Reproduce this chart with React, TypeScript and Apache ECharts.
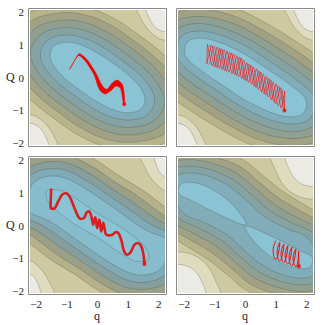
import React, { useEffect, useRef } from "react";
import * as echarts from "echarts";

// ---------- tick values ----------
const qTicks = [-2, -1, 0, 1, 2];
const QTicks = [-2, -1, 0, 1, 2];

// ---------- level colours (low -> high) ----------
const levelColors = ["#8ac3d3", "#80adb9", "#86a3a4", "#8f9f91", "#a1a285", "#b7b48c", "#cdc9a0", "#dedbbf", "#ebeae4"];
const panel3Colors = ["#8ac3d3", "#86bccc", "#7faab6", "#879f9c", "#9aa088", "#b4b18b", "#cdc9a0", "#dedbbf", "#ebeae4"];

// ---------- panel 1 contours ----------
const p1L1 = [[-1.53,0.79],[-1.35,1.00],[-1.00,1.07],[-0.57,1.00],[-0.03,0.76],[0.60,0.37],[1.19,-0.08],[1.51,-0.50],[1.53,-0.79],[1.35,-1.00],[1.00,-1.07],[0.57,-1.00],[0.03,-0.76],[-0.60,-0.37],[-1.19,0.08],[-1.51,0.50]];
const p1L2 = [[-1.85,0.81],[-1.57,1.17],[-1.06,1.29],[-0.52,1.22],[0.09,0.97],[0.75,0.55],[1.38,0.08],[1.79,-0.42],[1.85,-0.81],[1.57,-1.17],[1.06,-1.29],[0.52,-1.22],[-0.09,-0.97],[-0.75,-0.55],[-1.38,-0.08],[-1.79,0.42]];
const p1L3 = [[-2.18,0.83],[-1.79,1.34],[-1.11,1.51],[-0.46,1.44],[0.21,1.17],[0.91,0.73],[1.58,0.23],[2.06,-0.34],[2.18,-0.83],[1.79,-1.34],[1.11,-1.51],[0.46,-1.44],[-0.21,-1.17],[-0.91,-0.73],[-1.58,-0.23],[-2.06,0.34]];
const p1L4 = [[-2.50,0.85],[-2.00,1.51],[-1.17,1.74],[-0.41,1.67],[0.33,1.37],[1.06,0.92],[1.78,0.38],[2.33,-0.26],[2.50,-0.85],[2.00,-1.51],[1.17,-1.74],[0.41,-1.67],[-0.33,-1.37],[-1.06,-0.92],[-1.78,-0.38],[-2.33,0.26]];
const p1L5 = [[-2.83,0.87],[-2.22,1.69],[-1.22,1.96],[-0.35,1.89],[0.45,1.58],[1.21,1.10],[1.97,0.53],[2.60,-0.18],[2.83,-0.87],[2.22,-1.69],[1.22,-1.96],[0.35,-1.89],[-0.45,-1.58],[-1.21,-1.10],[-1.97,-0.53],[-2.60,0.18]];
const p1L6 = [[-3.16,0.89],[-2.44,1.86],[-1.28,2.18],[-0.30,2.11],[0.57,1.78],[1.36,1.28],[2.17,0.68],[2.87,-0.10],[3.16,-0.89],[2.44,-1.86],[1.28,-2.18],[0.30,-2.11],[-0.57,-1.78],[-1.36,-1.28],[-2.17,-0.68],[-2.87,0.10]];
const p1HiA = [[1.28,2.25],[1.44,1.75],[1.76,1.35],[2.14,1.14],[2.47,1.24],[2.58,2.25]];
const p1HiB = [[1.60,2.15],[1.69,1.80],[1.93,1.49],[2.25,1.42],[2.36,2.15]];
const p1HiC = [[-1.28,-2.25],[-1.44,-1.75],[-1.76,-1.35],[-2.14,-1.14],[-2.47,-1.24],[-2.58,-2.25]];
const p1HiD = [[-1.60,-2.15],[-1.69,-1.80],[-1.93,-1.49],[-2.25,-1.42],[-2.36,-2.15]];

// ---------- panel 2 contours ----------
const p2L1 = [[-1.99,0.84],[-1.88,1.09],[-1.61,1.19],[-1.18,1.16],[-0.64,0.99],[0.02,0.68],[0.72,0.25],[1.43,-0.20],[1.92,-0.60],[1.99,-0.84],[1.88,-1.09],[1.61,-1.19],[1.18,-1.16],[0.64,-0.99],[-0.02,-0.68],[-0.72,-0.25],[-1.43,0.20],[-1.92,0.60]];
const p2L2 = [[-2.26,0.89],[-2.08,1.26],[-1.70,1.40],[-1.18,1.38],[-0.55,1.20],[0.15,0.88],[0.88,0.43],[1.63,-0.05],[2.19,-0.52],[2.26,-0.89],[2.08,-1.26],[1.70,-1.40],[1.18,-1.38],[0.55,-1.20],[-0.15,-0.88],[-0.88,-0.43],[-1.63,0.05],[-2.19,0.52]];
const p2L3 = [[-2.53,0.94],[-2.27,1.43],[-1.79,1.62],[-1.18,1.61],[-0.46,1.41],[0.28,1.07],[1.05,0.61],[1.84,0.11],[2.46,-0.44],[2.53,-0.94],[2.27,-1.43],[1.79,-1.62],[1.18,-1.61],[0.46,-1.41],[-0.28,-1.07],[-1.05,-0.61],[-1.84,-0.11],[-2.46,0.44]];
const p2L4 = [[-2.81,0.99],[-2.47,1.61],[-1.87,1.83],[-1.18,1.83],[-0.37,1.63],[0.41,1.26],[1.21,0.80],[2.05,0.26],[2.73,-0.36],[2.81,-0.99],[2.47,-1.61],[1.87,-1.83],[1.18,-1.83],[0.37,-1.63],[-0.41,-1.26],[-1.21,-0.80],[-2.05,-0.26],[-2.73,0.36]];
const p2L5 = [[-3.08,1.04],[-2.67,1.78],[-1.96,2.04],[-1.18,2.05],[-0.29,1.84],[0.54,1.45],[1.37,0.98],[2.25,0.41],[3.00,-0.28],[3.08,-1.04],[2.67,-1.78],[1.96,-2.04],[1.18,-2.05],[0.29,-1.84],[-0.54,-1.45],[-1.37,-0.98],[-2.25,-0.41],[-3.00,0.28]];
const p2L6 = [[-3.35,1.09],[-2.86,1.95],[-2.05,2.25],[-1.18,2.27],[-0.20,2.05],[0.67,1.65],[1.54,1.16],[2.46,0.56],[3.27,-0.20],[3.35,-1.09],[2.86,-1.95],[2.05,-2.25],[1.18,-2.27],[0.20,-2.05],[-0.67,-1.65],[-1.54,-1.16],[-2.46,-0.56],[-3.27,0.20]];

// ---------- panel 3 contours ----------
const p3L1 = [[-1.66,1.04],[-1.38,1.09],[-1.11,1.04],[-0.57,0.73],[-0.03,0.38],[0.62,0.03],[1.17,-0.33],[1.61,-0.73],[1.66,-1.04],[1.38,-1.09],[1.11,-1.04],[0.57,-0.73],[0.03,-0.38],[-0.62,-0.03],[-1.17,0.33],[-1.61,0.73]];
const p3L2 = [[-2.31,0.84],[-2.09,1.29],[-1.66,1.49],[-1.11,1.46],[-0.52,1.19],[0.14,0.79],[0.84,0.33],[1.55,-0.13],[2.36,-0.48],[2.31,-0.84],[2.09,-1.29],[1.66,-1.49],[1.11,-1.46],[0.52,-1.19],[-0.14,-0.79],[-0.84,-0.33],[-1.55,0.13],[-2.36,0.48]];
const p3L3 = [[-2.58,0.79],[-2.29,1.44],[-1.74,1.70],[-1.08,1.69],[-0.41,1.39],[0.28,0.97],[1.00,0.51],[1.74,0.03],[2.63,-0.40],[2.58,-0.79],[2.29,-1.44],[1.74,-1.70],[1.08,-1.69],[0.41,-1.39],[-0.28,-0.97],[-1.00,-0.51],[-1.74,-0.03],[-2.63,0.40]];
const p3L4 = [[-2.85,0.73],[-2.48,1.60],[-1.83,1.90],[-1.05,1.91],[-0.30,1.60],[0.42,1.15],[1.17,0.69],[1.94,0.18],[2.90,-0.32],[2.85,-0.73],[2.48,-1.60],[1.83,-1.90],[1.05,-1.91],[0.30,-1.60],[-0.42,-1.15],[-1.17,-0.69],[-1.94,-0.18],[-2.90,0.32]];
const p3L5 = [[-3.12,0.68],[-2.68,1.75],[-1.92,2.10],[-1.02,2.13],[-0.19,1.80],[0.56,1.33],[1.33,0.88],[2.13,0.33],[3.18,-0.24],[3.12,-0.68],[2.68,-1.75],[1.92,-2.10],[1.02,-2.13],[0.19,-1.80],[-0.56,-1.33],[-1.33,-0.88],[-2.13,-0.33],[-3.18,0.24]];
const p3L6 = [[-3.39,0.63],[-2.87,1.90],[-2.00,2.31],[-0.98,2.36],[-0.08,2.00],[0.70,1.51],[1.49,1.06],[2.33,0.48],[3.45,-0.16],[3.39,-0.63],[2.87,-1.90],[2.00,-2.31],[0.98,-2.36],[0.08,-2.00],[-0.70,-1.51],[-1.49,-1.06],[-2.33,-0.48],[-3.45,0.16]];
const p3HiA = [[1.39,2.26],[1.55,1.75],[1.88,1.29],[2.25,1.09],[2.47,2.26]];
const p3HiB = [[1.87,2.15],[1.93,1.80],[2.09,1.55],[2.31,1.49],[2.36,2.15]];
const p3HiC = [[-1.39,-2.26],[-1.55,-1.75],[-1.88,-1.29],[-2.25,-1.09],[-2.47,-2.26]];
const p3HiD = [[-1.87,-2.15],[-1.93,-1.80],[-2.09,-1.55],[-2.31,-1.49],[-2.36,-2.15]];

// ---------- panel 4 contours ----------
const p4LobeA = [[-2.18,1.14],[-2.05,1.29],[-1.61,1.29],[-1.07,1.09],[-0.53,0.73],[-0.15,0.33],[0.02,0.03],[-0.26,0.08],[-0.74,0.28],[-1.29,0.53],[-1.83,0.79],[-2.16,0.94]];
const p4LobeB = [[2.18,-1.14],[2.05,-1.29],[1.61,-1.29],[1.07,-1.09],[0.53,-0.73],[0.15,-0.33],[-0.02,-0.03],[0.26,-0.08],[0.74,-0.28],[1.29,-0.53],[1.83,-0.79],[2.16,-0.94]];
const p4L2 = [[-2.43,1.14],[-2.26,1.49],[-1.83,1.60],[-1.18,1.49],[-0.53,1.19],[0.07,0.73],[0.61,0.28],[1.32,-0.08],[2.03,-0.38],[2.43,-1.14],[2.26,-1.49],[1.83,-1.60],[1.18,-1.49],[0.53,-1.19],[-0.07,-0.73],[-0.61,-0.28],[-1.32,0.08],[-2.03,0.38]];
const p4L3 = [[-2.70,1.14],[-2.46,1.65],[-1.89,1.80],[-1.16,1.70],[-0.42,1.39],[0.21,0.92],[0.78,0.46],[1.51,0.08],[2.30,-0.30],[2.70,-1.14],[2.46,-1.65],[1.89,-1.80],[1.16,-1.70],[0.42,-1.39],[-0.21,-0.92],[-0.78,-0.46],[-1.51,-0.08],[-2.30,0.30]];
const p4L4 = [[-2.97,1.14],[-2.65,1.80],[-1.96,2.00],[-1.13,1.90],[-0.31,1.60],[0.35,1.10],[0.94,0.64],[1.71,0.23],[2.57,-0.22],[2.97,-1.14],[2.65,-1.80],[1.96,-2.00],[1.13,-1.90],[0.31,-1.60],[-0.35,-1.10],[-0.94,-0.64],[-1.71,-0.23],[-2.57,0.22]];
const p4L5 = [[-3.24,1.14],[-2.85,1.95],[-2.02,2.20],[-1.11,2.10],[-0.20,1.80],[0.49,1.28],[1.10,0.82],[1.91,0.38],[2.84,-0.14],[3.24,-1.14],[2.85,-1.95],[2.02,-2.20],[1.11,-2.10],[0.20,-1.80],[-0.49,-1.28],[-1.10,-0.82],[-1.91,-0.38],[-2.84,0.14]];
const p4L6 = [[-3.51,1.14],[-3.04,2.10],[-2.09,2.41],[-1.09,2.31],[-0.09,2.00],[0.64,1.46],[1.26,1.01],[2.10,0.53],[3.11,-0.06],[3.51,-1.14],[3.04,-2.10],[2.09,-2.41],[1.09,-2.31],[0.09,-2.00],[-0.64,-1.46],[-1.26,-1.01],[-2.10,-0.53],[-3.11,0.06]];
const p4HiA = [[0.83,2.25],[0.99,1.65],[1.32,1.14],[1.86,0.84],[2.40,0.89],[2.51,2.25]];
const p4HiB = [[1.32,2.15],[1.43,1.70],[1.70,1.34],[2.08,1.19],[2.29,1.24],[2.35,2.15]];
const p4HiC = [[-0.83,-2.25],[-0.99,-1.65],[-1.32,-1.14],[-1.86,-0.84],[-2.40,-0.89],[-2.51,-2.25]];
const p4HiD = [[-1.32,-2.15],[-1.43,-1.70],[-1.70,-1.34],[-2.08,-1.19],[-2.29,-1.24],[-2.35,-2.15]];

// ---------- trajectories ----------
const traj1EdgeA = [[-0.87,0.31],[-0.62,0.71],[-0.55,0.71],[-0.33,0.53],[-0.05,0.13],[0.14,-0.23],[0.30,-0.36],[0.49,-0.16],[0.65,-0.08],[0.82,-0.23],[0.89,-0.81]];
const traj1EdgeB = [[-0.91,0.25],[-0.66,0.64],[-0.58,0.66],[-0.38,0.48],[-0.11,0.08],[0.06,-0.36],[0.24,-0.50],[0.46,-0.38],[0.60,-0.26],[0.75,-0.33],[0.85,-0.81]];
const traj2A = [[-1.24,1.01],[-1.08,0.35],[-0.92,0.93],[-0.76,0.24],[-0.60,0.80],[-0.44,0.12],[-0.28,0.66],[-0.12,-0.03],[0.04,0.45],[0.20,-0.20],[0.36,0.26],[0.52,-0.43],[0.68,0.03],[0.84,-0.67],[1.00,-0.20],[1.16,-0.93],[1.28,-0.41],[1.27,-1.00]];
const traj2B = [[-1.24,1.01],[-1.26,0.42],[-1.10,0.98],[-0.94,0.31],[-0.78,0.87],[-0.62,0.19],[-0.46,0.75],[-0.30,0.07],[-0.14,0.59],[0.02,-0.10],[0.18,0.37],[0.34,-0.30],[0.50,0.16],[0.66,-0.53],[0.82,-0.07],[0.98,-0.79],[1.14,-0.31],[1.28,-0.98]];
const traj2C = [[-1.16,0.99],[-1.00,0.32],[-0.84,0.89],[-0.68,0.21],[-0.52,0.76],[-0.36,0.09],[-0.20,0.62],[-0.04,-0.07],[0.12,0.41],[0.28,-0.26],[0.44,0.20],[0.60,-0.49],[0.76,-0.03],[0.92,-0.73],[1.08,-0.26],[1.24,-0.99]];
const traj2D = [[-1.18,0.39],[-1.02,0.95],[-0.86,0.27],[-0.70,0.85],[-0.54,0.16],[-0.38,0.71],[-0.22,0.02],[-0.06,0.53],[0.10,-0.15],[0.26,0.32],[0.42,-0.36],[0.58,0.10],[0.74,-0.59],[0.90,-0.13],[1.06,-0.85],[1.22,-0.36]];
const traj3 = [[-1.51,1.12],[-1.53,0.55],[-1.42,0.51],[-1.28,0.73],[-1.15,0.94],[-1.03,0.98],[-0.90,0.86],[-0.77,0.58],[-0.65,0.31],[-0.55,0.20],[-0.44,0.23],[-0.35,0.40],[-0.28,0.43],[-0.20,0.28],[-0.14,0.03],[-0.07,0.25],[-0.01,-0.08],[0.06,0.18],[0.12,-0.18],[0.19,0.08],[0.27,-0.26],[0.36,-0.30],[0.49,-0.28],[0.60,-0.20],[0.69,-0.24],[0.78,-0.46],[0.87,-0.79],[0.97,-0.89],[1.08,-0.81],[1.19,-0.60],[1.30,-0.53],[1.41,-0.60],[1.49,-0.84],[1.53,-1.17]];
const traj4 = [[0.99,-0.46],[0.90,-0.76],[0.99,-1.02],[1.09,-0.76],[1.12,-0.51],[1.03,-0.81],[1.12,-1.07],[1.22,-0.81],[1.25,-0.56],[1.16,-0.86],[1.25,-1.12],[1.35,-0.86],[1.38,-0.61],[1.29,-0.91],[1.38,-1.17],[1.48,-0.91],[1.51,-0.66],[1.42,-0.96],[1.51,-1.22],[1.61,-0.96],[1.64,-0.71],[1.55,-1.01],[1.64,-1.25],[1.72,-1.01],[1.73,-0.78],[1.74,-1.24]];
const endPoints = [[0.87,-0.81],[1.27,-1.00],[1.53,-1.17],[1.74,-1.24]];

// ---------- layout ----------
const grids = [
  { left: 30, top: 10 },
  { left: 178, top: 10 },
  { left: 30, top: 158 },
  { left: 178, top: 158 },
];
const GW = 135;
const GH = 135;
const SERIF = "'Liberation Serif', 'DejaVu Serif', serif";

type Poly = { pts: number[][]; fill: string; line: boolean };

function buildPolys(rings: number[][][], highs: number[][][], colors: string[] = levelColors): Poly[] {
  const out: Poly[] = [];
  out.push({ pts: [[-4, -4], [4, -4], [4, 4], [-4, 4]], fill: colors[6], line: false });
  highs.forEach((h, i) => out.push({ pts: h, fill: colors[7 + (i % 2)], line: true }));
  for (let k = rings.length - 1; k >= 0; k--) {
    out.push({ pts: rings[k], fill: colors[k], line: true });
  }
  return out;
}

function contourSeries(idx: number, polys: Poly[], extra: Poly[] = []) {
  const all = polys.concat(extra);
  return {
    type: "custom",
    xAxisIndex: idx,
    yAxisIndex: idx,
    clip: true,
    silent: true,
    z: 1,
    data: all.map(() => [0, 0]),
    renderItem: (params: any, api: any) => {
      const p = all[params.dataIndex];
      return {
        type: "polygon",
        shape: { points: p.pts.map((pt) => api.coord(pt)), smooth: p.line ? 0.35 : 0 },
        style: {
          fill: p.fill,
          stroke: p.line ? "rgba(50,50,40,0.38)" : "none",
          lineWidth: 0.6,
        },
      };
    },
  };
}

const fmt = (v: number) => String(v).replace("-", "\u2212");

export default function App() {
  const ref = useRef<HTMLDivElement>(null);
  useEffect(() => {
    if (!ref.current) return;
    const chart = echarts.init(ref.current, null, { renderer: "svg" });

    const panelPolys = [
      buildPolys([p1L1, p1L2, p1L3, p1L4, p1L5, p1L6], [p1HiA, p1HiB, p1HiC, p1HiD]),
      buildPolys([p2L1, p2L2, p2L3, p2L4, p2L5, p2L6], [p1HiA, p1HiB, p1HiC, p1HiD]),
      buildPolys([p3L1, p3L2, p3L3, p3L4, p3L5, p3L6], [p3HiA, p3HiB, p3HiC, p3HiD], panel3Colors),
      buildPolys([p4LobeA, p4L2, p4L3, p4L4, p4L5, p4L6], [p4HiA, p4HiB, p4HiC, p4HiD]),
    ];
    const p4Extra: Poly[] = [{ pts: p4LobeB, fill: levelColors[0], line: true }];

    const xAxes = grids.map((_, i) => ({
      gridIndex: i,
      type: "value",
      min: -2.2,
      max: 2.2,
      axisLine: { show: false },
      splitLine: { show: false },
      axisTick: { show: true, customValues: qTicks, length: 2, lineStyle: { color: "#888", width: 1 } },
      axisLabel: {
        show: i >= 2,
        customValues: qTicks,
        formatter: fmt,
        fontFamily: SERIF,
        fontSize: 11,
        color: "#222",
        margin: 5,
      },
    }));
    const yAxes = grids.map((_, i) => ({
      gridIndex: i,
      type: "value",
      min: -2.05,
      max: 2.05,
      axisLine: { show: false },
      splitLine: { show: false },
      axisTick: { show: true, customValues: QTicks, length: 2, lineStyle: { color: "#888", width: 1 } },
      axisLabel: {
        show: i % 2 === 0,
        customValues: QTicks,
        formatter: fmt,
        fontFamily: SERIF,
        fontSize: 11,
        color: "#222",
        margin: 6,
      },
    }));

    const ribbon = traj1EdgeA.concat(traj1EdgeB.slice().reverse());
    const trajLine = (idx: number, data: number[][], width: number, smooth: number | boolean, color = "#ff0000") => ({
      type: "line",
      xAxisIndex: idx,
      yAxisIndex: idx,
      data,
      showSymbol: false,
      smooth,
      silent: true,
      z: 3,
      lineStyle: { color, width },
    });

    const series: any[] = [
      contourSeries(0, panelPolys[0]),
      contourSeries(1, panelPolys[1]),
      contourSeries(2, panelPolys[2]),
      contourSeries(3, panelPolys[3], p4Extra),
      {
        type: "custom",
        xAxisIndex: 0,
        yAxisIndex: 0,
        clip: true,
        silent: true,
        z: 3,
        data: [[0, 0]],
        renderItem: (params: any, api: any) => ({
          type: "polygon",
          shape: { points: ribbon.map((pt) => api.coord(pt)), smooth: 0.3 },
          style: { fill: "#f20000", stroke: "#ff0000", lineWidth: 0.6 },
        }),
      },
      trajLine(1, traj2A, 0.6, 0.2),
      trajLine(1, traj2B, 0.6, 0.2),
      trajLine(1, traj2C, 0.5, 0.2),
      trajLine(1, traj2D, 0.5, 0.2),
      trajLine(2, traj3, 2.6, 0.3, "rgba(235,0,0,0.85)"),
      trajLine(3, traj4, 1, 0.5),
    ];
    endPoints.forEach((p, i) => {
      series.push({
        type: "scatter",
        xAxisIndex: i,
        yAxisIndex: i,
        data: [p],
        symbolSize: 4,
        silent: true,
        z: 4,
        itemStyle: { color: "#ff0000" },
      });
    });

    const frames = grids.map((g) => ({
      type: "rect",
      shape: { x: g.left - 1.5, y: g.top - 1.5, width: GW + 3, height: GH + 3 },
      style: { fill: "none", stroke: "#8a8a8a", lineWidth: 1 },
      z: 10,
      silent: true,
    }));
    const labelStyle = { fontFamily: SERIF, fontSize: 12, fill: "#222" };
    const texts = [
      { type: "text", left: 6, top: 71, style: { ...labelStyle, text: "Q" } },
      { type: "text", left: 6, top: 219, style: { ...labelStyle, text: "Q" } },
      { type: "text", left: 94, top: 310, style: { ...labelStyle, text: "q" } },
      { type: "text", left: 242, top: 310, style: { ...labelStyle, text: "q" } },
    ];

    chart.setOption({
      animation: false,
      backgroundColor: "#ffffff",
      grid: grids.map((g) => ({ left: g.left, top: g.top, width: GW, height: GH })),
      xAxis: xAxes,
      yAxis: yAxes,
      series,
      graphic: [...frames, ...texts],
    });
    return () => chart.dispose();
  }, []);
  return <div ref={ref} style={{ position: "fixed", left: 0, top: 0, width: 326, height: 325 }} />;
}
